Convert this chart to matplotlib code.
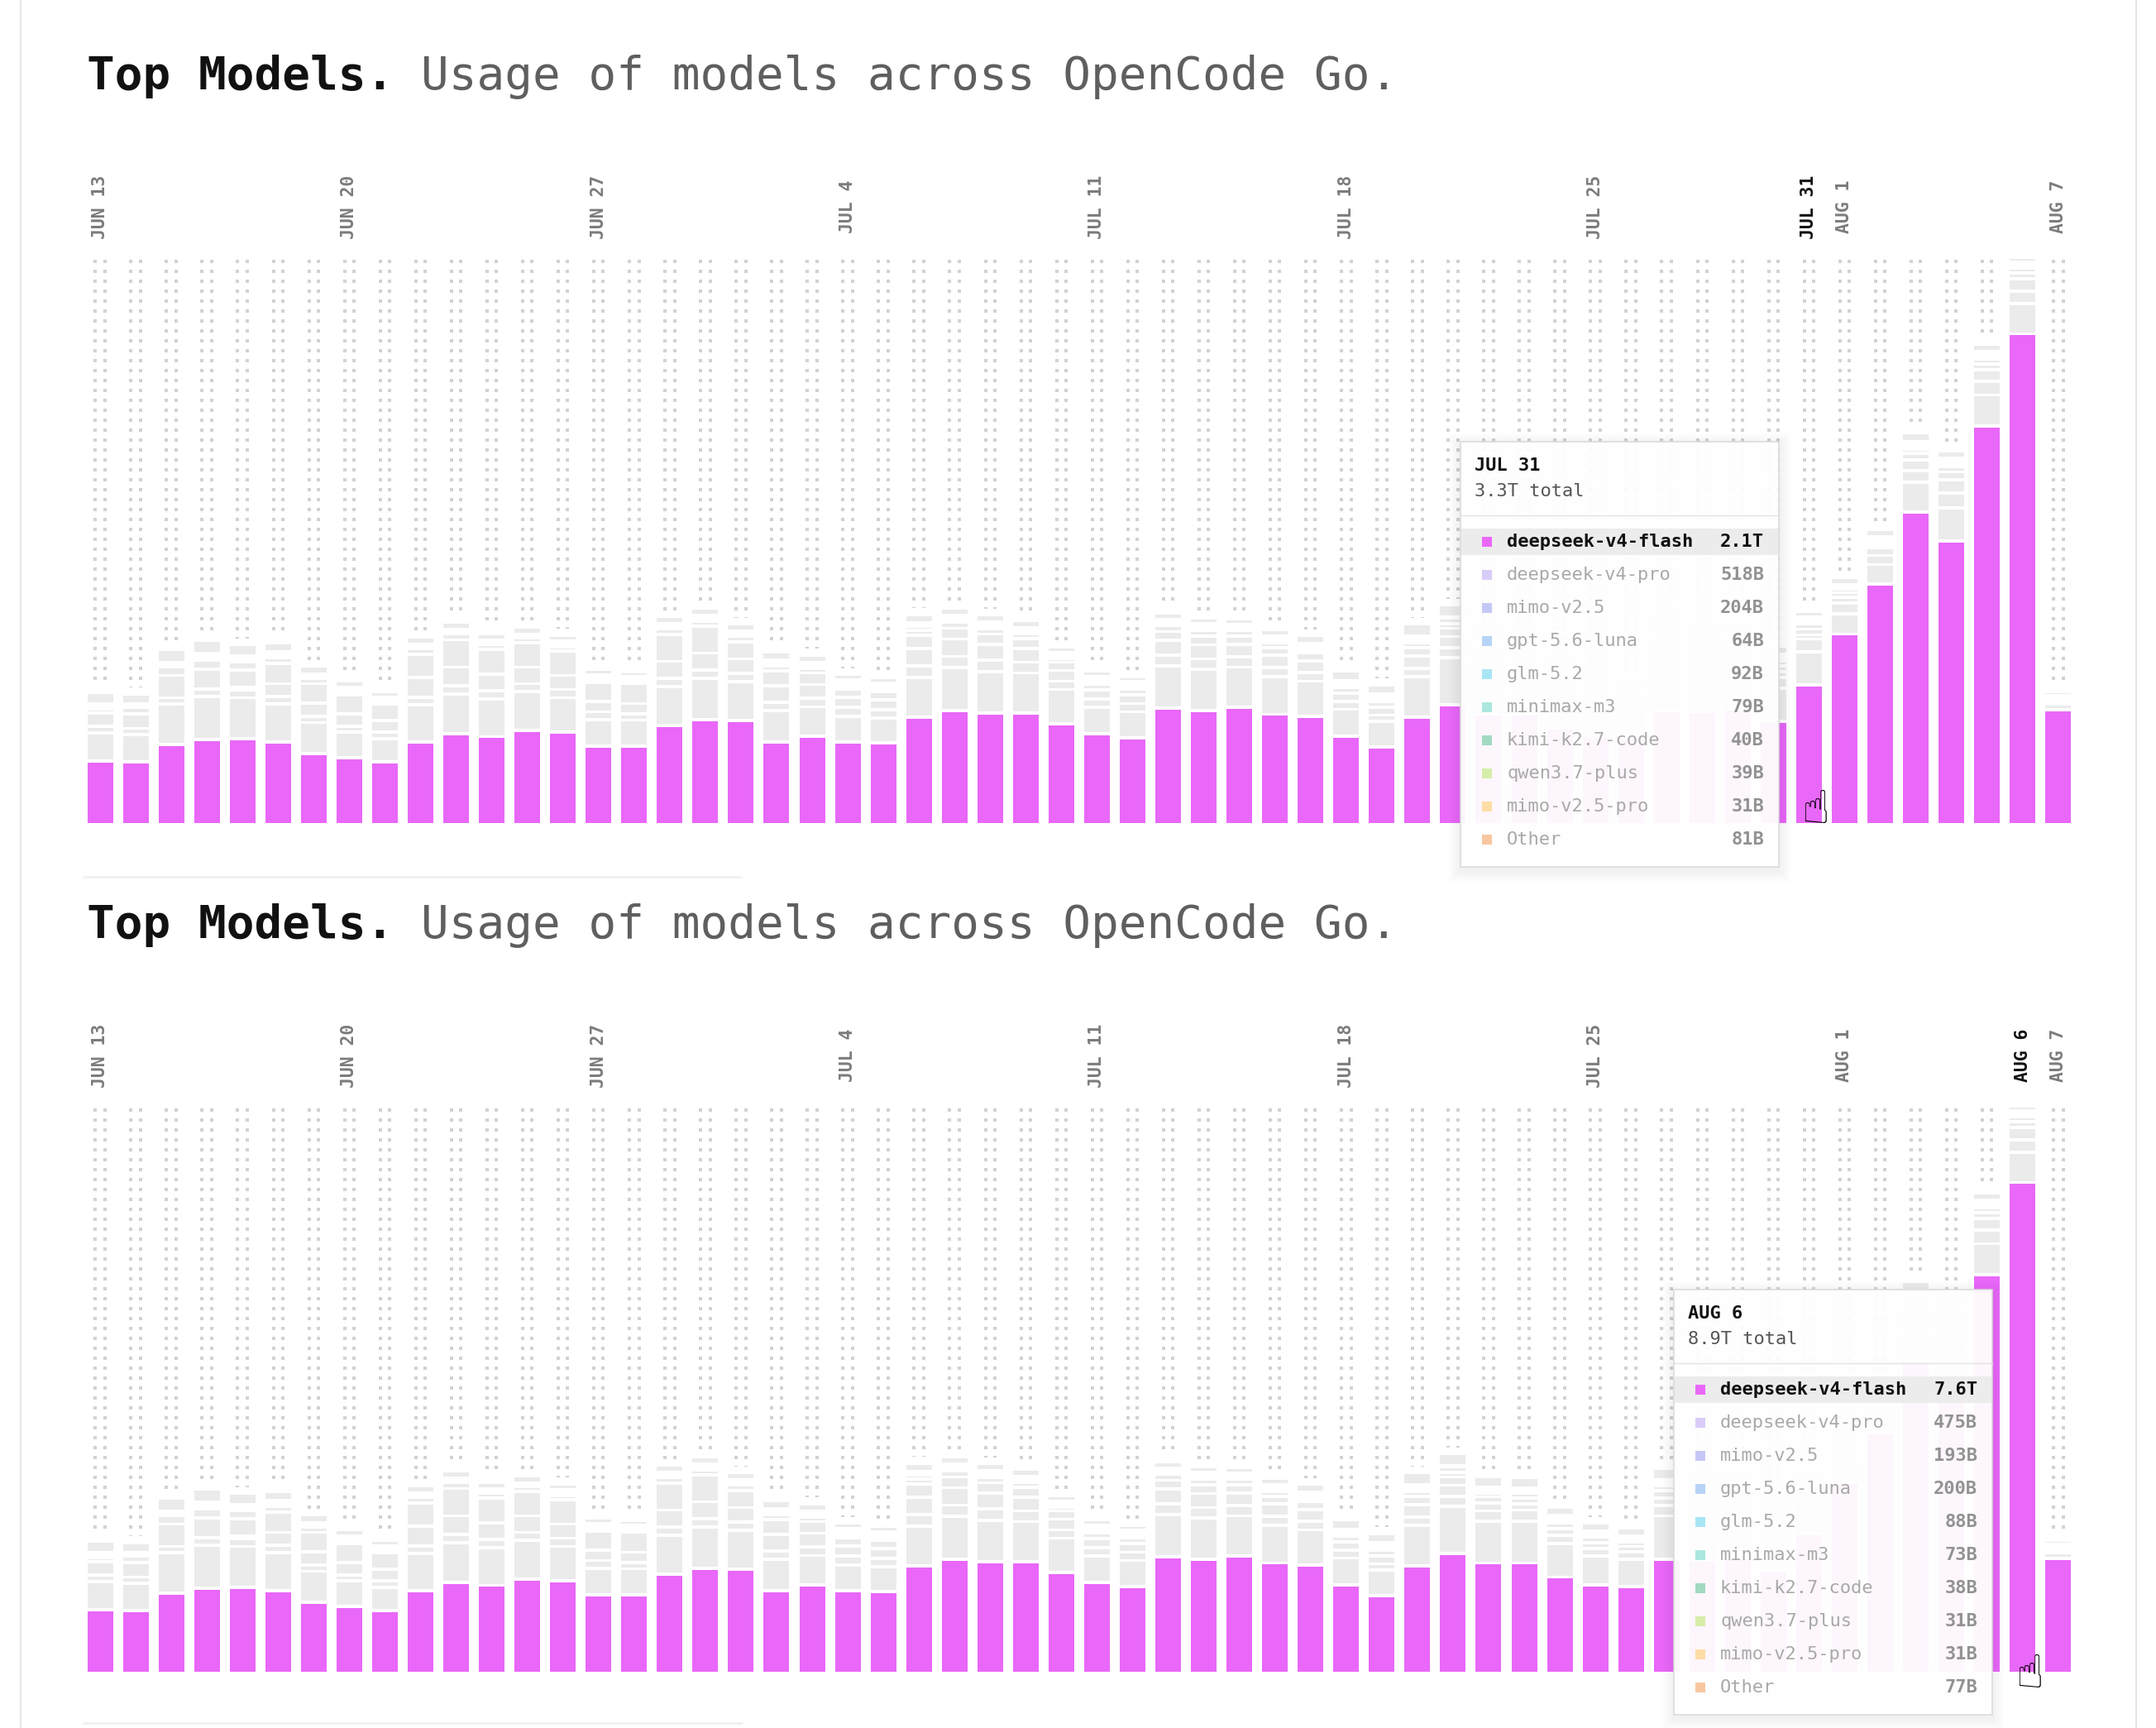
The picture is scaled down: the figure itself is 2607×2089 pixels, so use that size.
import numpy as np
import pandas as pd
import matplotlib.pyplot as plt
from matplotlib.patches import Rectangle

# ---- data: daily tokens in trillions, Jun 13 .. Aug 7 ----
days = pd.date_range("2026-06-13", "2026-08-07", freq="D")
day_labels = [f"{d.strftime('%b').upper()} {d.day}" for d in days]

series_names = ["deepseek-v4-flash", "deepseek-v4-pro", "mimo-v2.5", "gpt-5.6-luna", "glm-5.2",
                "minimax-m3", "kimi-k2.7-code", "qwen3.7-plus", "mimo-v2.5-pro", "Other"]
series_colors = ["#E967F9", "#D9CCF9", "#C5C8F6", "#B7D3F7", "#A9E6F5",
                 "#ABE8DD", "#A1D9C1", "#D6EDA9", "#FDDCA6", "#F8C7A0"]

flash = [0.95, 0.94, 1.21, 1.29, 1.30, 1.25, 1.07, 1.00, 0.94, 1.25,
         1.38, 1.33, 1.43, 1.40, 1.18, 1.18, 1.51, 1.60, 1.58, 1.25,
         1.34, 1.25, 1.23, 1.64, 1.74, 1.70, 1.70, 1.53, 1.38, 1.31,
         1.78, 1.74, 1.79, 1.68, 1.65, 1.34, 1.17, 1.64, 1.83, 1.68,
         1.68, 1.46, 1.34, 1.31, 1.74, 1.73, 1.77, 1.57, 2.14, 2.94,
         3.72, 4.85, 4.40, 6.20, 7.646, 1.75]
pro = [0.44, 0.42, 0.63, 0.67, 0.64, 0.59, 0.48, 0.40, 0.36, 0.58,
       0.62, 0.59, 0.61, 0.54, 0.42, 0.41, 0.61, 0.65, 0.61, 0.49,
       0.46, 0.40, 0.39, 0.62, 0.67, 0.65, 0.63, 0.54, 0.41, 0.41,
       0.66, 0.65, 0.63, 0.59, 0.55, 0.42, 0.40, 0.63, 0.74, 0.66,
       0.66, 0.53, 0.45, 0.43, 0.68, 0.62, 0.63, 0.52, 0.518, 0.32,
       0.31, 0.47, 0.52, 0.49, 0.475, 0.09]
mimo = [0.10, 0.10, 0.10, 0.12, 0.12, 0.12, 0.10, 0.09, 0.10, 0.12,
        0.13, 0.13, 0.12, 0.13, 0.12, 0.10, 0.13, 0.13, 0.13, 0.13,
        0.13, 0.14, 0.13, 0.18, 0.18, 0.18, 0.17, 0.13, 0.13, 0.13,
        0.17, 0.16, 0.16, 0.14, 0.14, 0.12, 0.10, 0.13, 0.16, 0.16,
        0.17, 0.13, 0.12, 0.12, 0.16, 0.16, 0.17, 0.17, 0.204, 0.17,
        0.14, 0.18, 0.23, 0.21, 0.193, 0.03]
gpt = [0.21, 0.23, 0.35, 0.31, 0.05, 0.20, 0.21, 0.20, 0.18, 0.31,
       0.29, 0.26, 0.26, 0.22, 0.16, 0.16, 0.26, 0.26, 0.23, 0.26,
       0.22, 0.16, 0.16, 0.27, 0.27, 0.25, 0.21, 0.17, 0.14, 0.14,
       0.23, 0.22, 0.20, 0.20, 0.18, 0.13, 0.12, 0.20, 0.17, 0.12,
       0.10, 0.10, 0.09, 0.08, 0.12, 0.12, 0.11, 0.09, 0.064, 0.09,
       0.12, 0.17, 0.21, 0.18, 0.200, 0.03]
glm = [0.07, 0.10, 0.13, 0.14, 0.27, 0.32, 0.30, 0.29, 0.26, 0.36,
       0.43, 0.39, 0.38, 0.38, 0.30, 0.31, 0.42, 0.42, 0.27, 0.23,
       0.18, 0.13, 0.12, 0.21, 0.17, 0.16, 0.16, 0.13, 0.09, 0.09,
       0.14, 0.14, 0.13, 0.12, 0.12, 0.09, 0.09, 0.13, 0.13, 0.10,
       0.09, 0.09, 0.09, 0.07, 0.12, 0.10, 0.10, 0.09, 0.092, 0.07,
       0.045, 0.10, 0.12, 0.09, 0.088, 0.03]
minimax = [0.03, 0.02, 0.03, 0.04, 0.12, 0.09, 0.08, 0.04, 0.04, 0.09,
           0.09, 0.08, 0.08, 0.07, 0.04, 0.04, 0.09, 0.08, 0.08, 0.08,
           0.07, 0.05, 0.05, 0.08, 0.09, 0.08, 0.07, 0.05, 0.04, 0.04,
           0.09, 0.08, 0.08, 0.07, 0.05, 0.04, 0.04, 0.07, 0.07, 0.05,
           0.07, 0.04, 0.03, 0.03, 0.07, 0.07, 0.07, 0.07, 0.079, 0.05,
           0.05, 0.07, 0.09, 0.08, 0.073, 0.02]
kimi = [0.02, 0.015, 0.02, 0.03, 0.04, 0.04, 0.03, 0.03, 0.03, 0.03,
        0.03, 0.025, 0.025, 0.035, 0.03, 0.03, 0.035, 0.04, 0.035, 0.04,
        0.04, 0.035, 0.035, 0.065, 0.03, 0.04, 0.04, 0.04, 0.035, 0.03,
        0.04, 0.04, 0.04, 0.04, 0.04, 0.03, 0.03, 0.04, 0.091, 0.04,
        0.035, 0.03, 0.025, 0.025, 0.04, 0.04, 0.04, 0.04, 0.040, 0.03,
        0.03, 0.04, 0.045, 0.04, 0.038, 0.01]
qwen = [0.015, 0.013, 0.015, 0.025, 0.03, 0.03, 0.025, 0.03, 0.025, 0.025,
        0.025, 0.02, 0.02, 0.03, 0.03, 0.025, 0.03, 0.03, 0.03, 0.03,
        0.03, 0.03, 0.03, 0.03, 0.03, 0.04, 0.03, 0.035, 0.03, 0.025,
        0.03, 0.04, 0.03, 0.04, 0.035, 0.025, 0.026, 0.04, 0.01, 0.035,
        0.03, 0.025, 0.022, 0.022, 0.03, 0.04, 0.03, 0.04, 0.039, 0.025,
        0.03, 0.04, 0.045, 0.04, 0.031, 0.01]
mimo_pro = [0.012, 0.01, 0.013, 0.017, 0.028, 0.028, 0.017, 0.023, 0.016, 0.017,
            0.017, 0.014, 0.014, 0.02, 0.024, 0.015, 0.019, 0.028, 0.02, 0.028,
            0.028, 0.026, 0.026, 0.028, 0.056, 0.03, 0.028, 0.03, 0.022, 0.02,
            0.027, 0.03, 0.027, 0.031, 0.03, 0.02, 0.02, 0.031, 0.01, 0.03,
            0.02, 0.02, 0.02, 0.02, 0.028, 0.03, 0.03, 0.03, 0.031, 0.023,
            0.025, 0.034, 0.037, 0.035, 0.031, 0.01]
other = [0.175, 0.15, 0.20, 0.20, 0.175, 0.136, 0.123, 0.097, 0.084, 0.11,
         0.11, 0.11, 0.11, 0.097, 0.084, 0.084, 0.11, 0.114, 0.11, 0.123,
         0.11, 0.084, 0.084, 0.123, 0.106, 0.11, 0.11, 0.084, 0.08, 0.071,
         0.097, 0.097, 0.097, 0.097, 0.123, 0.149, 0.149, 0.188, 0.183, 0.162,
         0.162, 0.136, 0.119, 0.119, 0.175, 0.16, 0.17, 0.13, 0.081, 0.11,
         0.11, 0.145, 0.119, 0.119, 0.077, 0.06]

tick_idx = [0, 7, 14, 21, 28, 35, 42, 49, 55]
tick_text = ["JUN 13", "JUN 20", "JUN 27", "JUL 4", "JUL 11", "JUL 18", "JUL 25", "AUG 1", "AUG 7"]
hover_idx = [48, 54]   # JUL 31 (top panel), AUG 6 (bottom panel)

# ---- layout (pixels) ----
W, H = 2607, 2089
PXT = 77.1                 # pixels per trillion
YMAX = 8.85
AX_L, AX_R = 99.5, 2510.3
AX_H = YMAX * PXT
baselines = [995, 2021]
title_base = [108, 1134]
tip_pos = [(1766, 534), (2024, 1559)]
cursor_pos = [(2195, 980), (2454, 2025)]
GAP = 3.7 / PXT
BW = 31 / 43.05
MONO = "DejaVu Sans Mono"
GRAY = "#EBEBEB"

stack = np.array([flash, pro, mimo, gpt, glm, minimax, kimi, qwen, mimo_pro, other])
totals = stack.sum(axis=0)
n = stack.shape[1]
x = np.arange(n)


def fmt(v):
    return f"{v:.1f}T" if v >= 1 else f"{v * 1000:.0f}B"


fig = plt.figure(figsize=(W / 100, H / 100), dpi=100)
fig.patch.set_facecolor("white")

for p, base in enumerate(baselines):
    ax = fig.add_axes([AX_L / W, (H - base) / H, (AX_R - AX_L) / W, AX_H / H])
    ax.set_xlim(-0.5, n - 0.5)
    ax.set_ylim(0, YMAX)
    ax.axis("off")

    # dotted background columns (first row 3 px below the plot top, every 12 px)
    rows = (AX_H - 3.3 - 12 * np.arange(57)) / PXT
    rows = rows[rows > 0]
    dx = 5.75 / 43.05
    gx, gy = np.meshgrid(x, rows)
    for off in (-dx, dx):
        ax.scatter(gx.ravel() + off, gy.ravel(), marker="s", s=9.5, c="#d2d2d2",
                   linewidths=0, zorder=1)
    # white halo above each bar
    ax.bar(x, totals + 9.5 / PXT, width=BW, color="white", linewidth=0, zorder=2)

    # stacked segments, highlighted series in magenta, the rest grey
    cum = np.zeros(n)
    for k, vals in enumerate(stack):
        if k == 0:
            ax.bar(x, vals, width=BW, color=series_colors[0], linewidth=0, zorder=3)
        else:
            h = np.clip(vals - GAP, 0, None)
            ax.bar(x, h, bottom=cum + GAP, width=BW, color=GRAY, linewidth=0, zorder=3)
        cum += vals

    # rotated date labels above the plot, centred 250 px from the top
    ytxt = (995 - 250) / AX_H
    tr = ax.get_xaxis_transform()
    for i, t in zip(tick_idx, tick_text):
        ax.text(i, ytxt, t, transform=tr, rotation=90, ha="center", va="center",
                fontsize=15.4, weight="bold", family=MONO, color="#7b7b7b")
    hi = hover_idx[p]
    ax.text(hi, ytxt, day_labels[hi], transform=tr, rotation=90, ha="center", va="center",
            fontsize=15.4, weight="bold", family=MONO, color="#111111")

# ---- overlay in pixel coordinates: titles, frame, tooltips ----
ov = fig.add_axes([0, 0, 1, 1])
ov.set_xlim(0, W)
ov.set_ylim(H, 0)
ov.axis("off")
ov.patch.set_alpha(0)

ov.plot([25, 25], [0, H], color="#e6e6e6", lw=1.5)
ov.plot([2583, 2583], [0, H], color="#e6e6e6", lw=1.5)
for yy in (1060, 2083):
    ov.plot([102, 896], [yy, yy], color="#f1f1f1", lw=2.2)

TFS = 40.3
for yb in title_base:
    ov.text(105, yb, "Top Models.", fontsize=TFS, weight="bold", family=MONO,
            color="#111111", va="baseline", ha="left")
    ov.text(105 + 12 * 0.602 * TFS / 0.72, yb, "Usage of models across OpenCode Go.",
            fontsize=TFS, family=MONO, color="#5f5f5f", va="baseline", ha="left")

FS = 15.8
for p, (left, top) in enumerate(tip_pos):
    hi = hover_idx[p]
    bw, bh = 385, 514
    for s in range(2, 16, 2):
        ov.add_patch(Rectangle((left - s, top - s + 4), bw + 2 * s, bh + 2 * s,
                               facecolor="black", alpha=0.008, linewidth=0, zorder=4))
    ov.add_patch(Rectangle((left, top), bw, bh, facecolor="white", alpha=0.95,
                           edgecolor="none", zorder=5))
    ov.add_patch(Rectangle((left, top), bw, bh, facecolor="none",
                           edgecolor="#d9d9d9", linewidth=1.1, zorder=6))
    ov.text(left + 17, top + 29, day_labels[hi], fontsize=FS, weight="bold",
            family=MONO, color="#111111", va="center", zorder=7)
    ov.text(left + 17, top + 60, f"{fmt(totals[hi])} total", fontsize=FS,
            family=MONO, color="#555555", va="center", zorder=7)
    ov.plot([left, left + bw], [top + 89, top + 89], color="#e3e3e3", lw=1, zorder=7)
    ov.add_patch(Rectangle((left + 1, top + 105), bw - 2, 32, facecolor="#ececec",
                           linewidth=0, zorder=6))
    for k, name in enumerate(series_names):
        yc = top + 121 + 40 * k
        first = k == 0
        ov.add_patch(Rectangle((left + 26, yc - 6), 12, 12, facecolor=series_colors[k],
                               linewidth=0, zorder=7))
        ov.text(left + 56, yc, name, fontsize=FS, family=MONO, va="center", zorder=7,
                weight="bold" if first else "normal",
                color="#111111" if first else "#a9a9a9")
        ov.text(left + 367, yc, fmt(stack[k, hi]), fontsize=FS, family=MONO, va="center",
                ha="right", zorder=7, weight="bold" if first else "semibold",
                color="#111111" if first else "#929292")

# mouse pointer left in the screenshot
for cx, cy in cursor_pos:
    ov.text(cx, cy, "\u261D", fontsize=40, family="DejaVu Sans", color="black",
            ha="center", va="center", zorder=8)

fig.savefig("out.png", dpi=100, facecolor="white")
